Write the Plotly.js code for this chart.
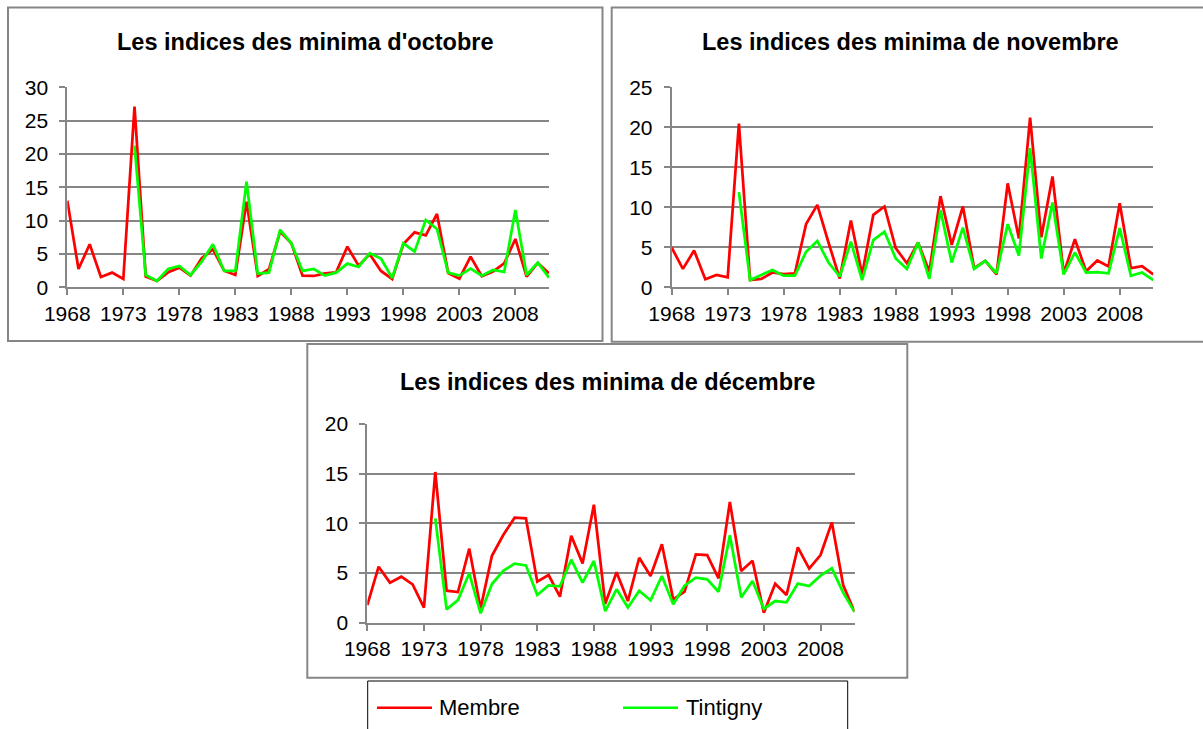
<!DOCTYPE html>
<html>
<head>
<meta charset="utf-8">
<script src="https://cdn.plot.ly/plotly-3.0.1.min.js"></script>
<style>html,body{margin:0;padding:0;background:#fff;}#chart{width:1203px;height:729px;}</style>
</head>
<body>
<div id="chart"></div>
<script>
// ---- Data ----
var years = [];
for (var yr = 1968; yr <= 2011; yr++) years.push(yr);

var membreOct = [13.0,2.75,6.45,1.55,2.2,1.25,27.1,1.6,0.95,2.25,
  2.95,1.75,4.35,5.7,2.5,1.85,12.85,1.7,2.7,8.35,
  6.6,1.75,1.7,2.1,2.25,6.1,3.25,4.95,2.45,1.25,
  6.5,8.25,7.8,11.0,2.15,1.3,4.6,1.65,2.35,3.6,
  7.25,1.6,3.65,2.1];
var tintignyOct = [null,null,null,null,null,null,21.25,1.85,0.95,2.75,
  3.2,1.85,3.85,6.45,2.45,2.45,15.85,2.05,2.2,8.6,
  6.6,2.45,2.75,1.75,2.2,3.55,3.05,5.1,4.3,1.4,
  6.6,5.35,10.1,8.75,2.2,1.75,2.8,1.75,2.6,2.3,
  11.6,1.85,3.7,1.45];

var membreNov = [4.96,2.3,4.6,1.0,1.55,1.25,20.45,0.9,1.05,1.85,
  1.65,1.75,7.9,10.3,5.6,1.1,8.35,1.6,9.05,10.1,
  4.9,3.0,5.6,1.95,11.4,5.3,10.1,2.4,3.3,1.6,
  13.0,6.1,21.2,6.25,13.85,1.75,6.0,2.0,3.35,2.6,
  10.5,2.4,2.65,1.6];
var tintignyNov = [null,null,null,null,null,null,11.9,0.9,1.55,2.15,
  1.45,1.45,4.45,5.8,3.1,1.35,5.7,0.9,5.9,6.95,
  3.6,2.3,5.6,1.05,9.65,3.1,7.45,2.3,3.3,1.75,
  7.9,3.95,17.4,3.6,10.6,1.6,4.35,1.85,1.9,1.75,
  7.4,1.45,1.85,0.9];

var membreDec = [1.78,5.64,4.03,4.63,3.86,1.51,15.17,3.22,3.09,7.45,
  1.44,6.74,8.83,10.57,10.5,4.13,4.8,2.62,8.76,5.97,
  11.88,1.9,5.07,2.18,6.54,4.7,7.89,2.35,3.12,6.88,
  6.81,4.46,12.15,5.2,6.24,1.0,3.93,2.79,7.58,5.44,
  6.81,10.1,3.79,1.1];
var tintignyDec = [null,null,null,null,null,null,10.5,1.34,2.28,4.97,
  0.94,3.89,5.23,5.94,5.77,2.79,3.76,3.66,6.34,4.03,
  6.21,1.17,3.36,1.54,3.22,2.25,4.7,1.85,3.72,4.53,
  4.36,3.12,8.79,2.55,4.19,1.38,2.18,2.05,3.93,3.69,
  4.73,5.47,3.02,1.1];

var seriesNames = ["Membre", "Tintigny"];
var titles = ["Les indices des minima d'octobre", "Les indices des minima de novembre", "Les indices des minima de décembre"];
var yMax = [30, 25, 20];

// ---- Layout helpers ----
var W = 1203, H = 729;
function px(x){ return x / W; }
function py(y){ return 1 - y / H; }
var RED = '#ff0000', GREEN = '#00ff00', GRAY = '#868686';
var FONT = 'Liberation Sans, Arial, sans-serif';

var panels = [
  {plot:[67.3,549,87.3,287.3], frame:[8,7.5,602.5,341], tx:305, ty:42},
  {plot:[671.7,1153.3,87.3,287.3], frame:[611.7,7.5,1210,341.7], tx:910, ty:42},
  {plot:[367.3,854.5,424,622.7], frame:[307.3,344,907.3,677.7], tx:607.3, ty:382}
];
var data = [[membreOct,tintignyOct],[membreNov,tintignyNov],[membreDec,tintignyDec]];

var traces = [];
var layout = {
  width: W, height: H,
  margin: {l:0,r:0,t:0,b:0},
  paper_bgcolor: '#ffffff', plot_bgcolor: 'rgba(0,0,0,0)',
  showlegend: false,
  font: {family: FONT, color: '#000'},
  shapes: [], annotations: []
};

panels.forEach(function(p, i){
  var xa = i === 0 ? 'x' : 'x' + (i+1);
  var ya = i === 0 ? 'y' : 'y' + (i+1);
  var xk = i === 0 ? 'xaxis' : 'xaxis' + (i+1);
  var yk = i === 0 ? 'yaxis' : 'yaxis' + (i+1);
  layout[xk] = {
    domain: [px(p.plot[0]), px(p.plot[1])],
    anchor: ya, range: [1968, 2011],
    tickmode: 'linear', tick0: 1968, dtick: 5,
    ticks: 'outside', ticklen: 6, tickwidth: 2, tickcolor: GRAY,
    showline: true, linecolor: GRAY, linewidth: 2,
    showgrid: false, zeroline: false,
    tickfont: {family: FONT, size: 21, color: '#000'},
    ticklabelstandoff: 0,
    fixedrange: true
  };
  layout[yk] = {
    domain: [py(p.plot[3]), py(p.plot[2])],
    anchor: xa, range: [0, yMax[i]],
    tickmode: 'linear', tick0: 0, dtick: 5,
    ticks: 'outside', ticklen: 6, tickwidth: 2, tickcolor: GRAY,
    showline: true, linecolor: GRAY, linewidth: 2,
    showgrid: true, gridcolor: GRAY, gridwidth: 2,
    zeroline: false,
    tickfont: {family: FONT, size: 21, color: '#000'},
    ticklabelstandoff: 7,
    fixedrange: true
  };
  traces.push({x: years, y: data[i][0], xaxis: xa, yaxis: ya, type: 'scatter', mode: 'lines',
    name: seriesNames[0], line: {color: RED, width: 2.75}, connectgaps: false});
  traces.push({x: years, y: data[i][1], xaxis: xa, yaxis: ya, type: 'scatter', mode: 'lines',
    name: seriesNames[1], line: {color: GREEN, width: 2.75}, connectgaps: false});
  layout.shapes.push({type:'rect', xref:'paper', yref:'paper',
    x0: px(p.frame[0]), x1: px(p.frame[2]), y0: py(p.frame[3]), y1: py(p.frame[1]),
    line: {color: GRAY, width: 2}, layer: 'below'});
  layout.annotations.push({xref:'paper', yref:'paper', x: px(p.tx), y: py(p.ty),
    xanchor:'center', yanchor:'middle', showarrow:false,
    text: '<b>' + titles[i] + '</b>', font: {family: FONT, size: 23.5, color: '#000'}});
});

// legend box (drawn manually at the reference position)
layout.shapes.push({type:'rect', xref:'paper', yref:'paper',
  x0: px(367.7), x1: px(847.7), y0: py(745), y1: py(681),
  line: {color: '#000', width: 1}});
layout.shapes.push({type:'line', xref:'paper', yref:'paper',
  x0: px(377), x1: px(432), y0: py(707.7), y1: py(707.7), line:{color: RED, width: 2.5}});
layout.shapes.push({type:'line', xref:'paper', yref:'paper',
  x0: px(623), x1: px(678), y0: py(707.7), y1: py(707.7), line:{color: GREEN, width: 2.5}});
layout.annotations.push({xref:'paper', yref:'paper', x: px(437), y: py(707), xanchor:'left', yanchor:'middle',
  showarrow:false, text: seriesNames[0], font:{family: FONT, size: 22, color:'#000'}});
layout.annotations.push({xref:'paper', yref:'paper', x: px(684), y: py(707), xanchor:'left', yanchor:'middle',
  showarrow:false, text: seriesNames[1], font:{family: FONT, size: 22, color:'#000'}});

Plotly.newPlot('chart', traces, layout, {staticPlot: true, displayModeBar: false});
</script>
</body>
</html>
